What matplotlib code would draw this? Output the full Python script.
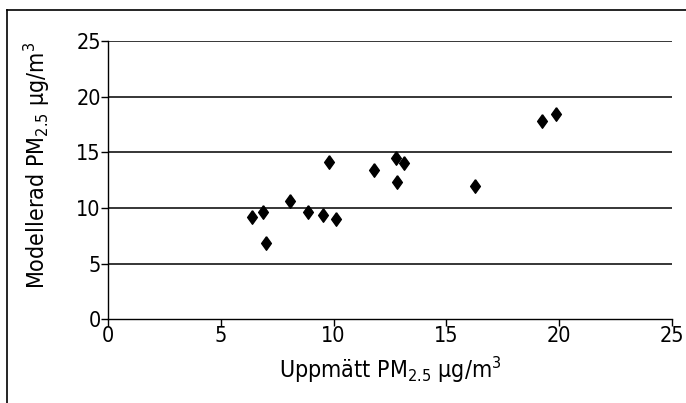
import numpy as np
import matplotlib.pyplot as plt
from matplotlib.lines import Line2D

# measured vs modelled PM2.5 (µg/m3)
measured = [6.38, 6.86, 7.03, 8.07, 8.87, 9.53, 10.09, 9.78, 11.79,
            12.75, 12.80, 13.13, 16.25, 19.22, 19.86]
modelled = [9.2, 9.65, 6.86, 10.64, 9.62, 9.38, 9.02, 14.12, 13.4,
            14.45, 12.32, 14.06, 11.96, 17.78, 18.46]
ticks = [0, 5, 10, 15, 20, 25]

plt.rcParams['font.family'] = 'DejaVu Sans'
plt.rcParams['font.stretch'] = 'condensed'
plt.rcParams['mathtext.fontset'] = 'custom'
plt.rcParams['mathtext.rm'] = 'DejaVu Sans:stretch=condensed'

diamond = [(0, 1), (0.72, 0), (0, -1), (-0.72, 0), (0, 1)]

fig = plt.figure(figsize=(6.86, 4.03), dpi=100)
ax = fig.add_axes([0.157, 0.208, 0.823, 0.69])

for t in ticks[1:]:
    ax.axhline(t, color='black', lw=1.1, zorder=1)

ax.scatter(measured, modelled, marker=diamond, s=95, color='black', zorder=3)

ax.set_xlim(0, 25)
ax.set_ylim(0, 25)
ax.set_xticks(ticks)
ax.set_yticks(ticks)
ax.tick_params(labelsize=15.5, length=5, width=1, color='black', pad=0)
for s in ['top', 'right']:
    ax.spines[s].set_visible(False)
for s in ['left', 'bottom']:
    ax.spines[s].set_linewidth(1)

ax.set_xlabel('Uppmätt PM$_{\\mathrm{2.5}}$ µg/m$^{\\mathrm{3}}$', fontsize=16.7, labelpad=6)
ax.set_ylabel('Modellerad PM$_{\\mathrm{2.5}}$ µg/m$^{\\mathrm{3}}$', fontsize=16.7)
ax.yaxis.set_label_coords(-0.098, 0.554)

# frame (left and top edge)
fig.add_artist(Line2D([7 / 686, 7 / 686], [0, 1 - 10 / 403], color='black', lw=1.2))
fig.add_artist(Line2D([7 / 686, 1], [1 - 10 / 403, 1 - 10 / 403], color='black', lw=1.2))

fig.savefig('out.png', dpi=100)
